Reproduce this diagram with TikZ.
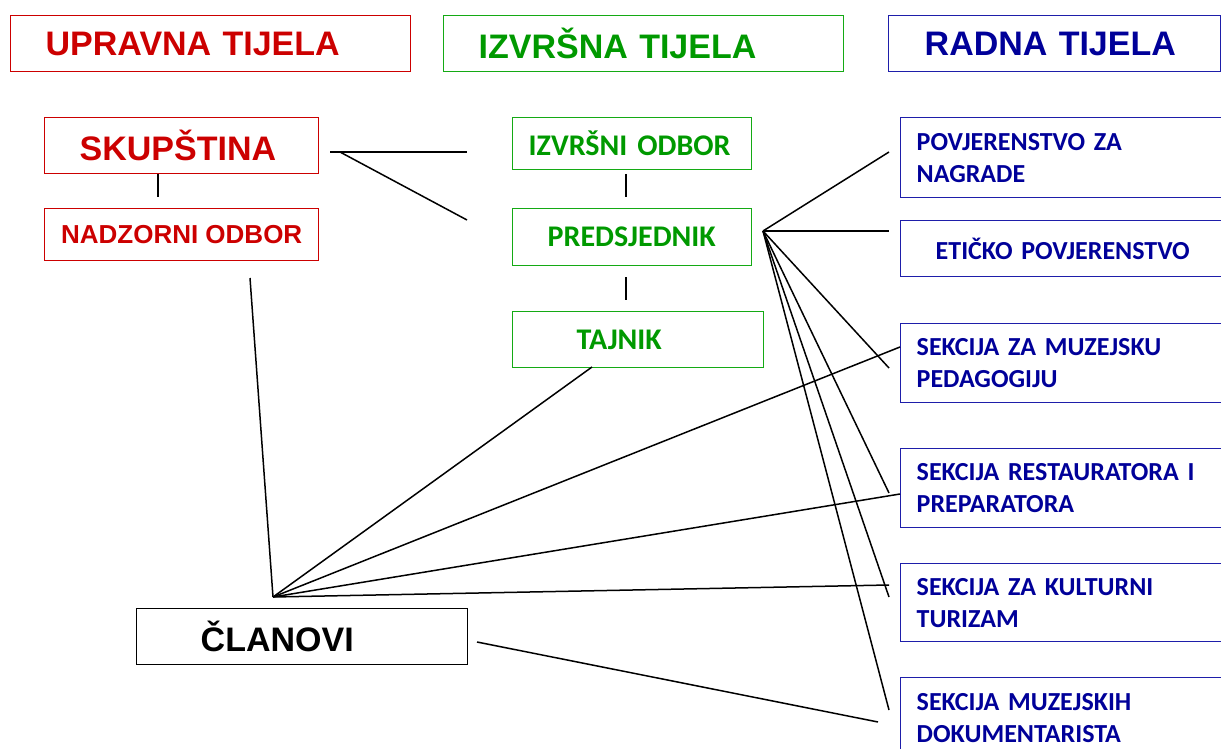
\documentclass[tikz,border=0pt]{standalone}
\usepackage{fontspec}
\setmainfont{Liberation Sans}
\newfontfamily\calfont{Carlito}
\usepackage{tikz}
\definecolor{upred}{RGB}{204,0,0}
\definecolor{izgreen}{RGB}{0,153,0}
\definecolor{izline}{RGB}{20,170,20}
\definecolor{radblue}{RGB}{0,0,153}
\definecolor{radline}{RGB}{30,30,170}
\tikzset{every path/.style={line width=1.5pt}}
\tikzset{box/.style={draw, line width=1.4pt, anchor=north west, align=left, inner ysep=0pt}}
\tikzset{bigtxt/.style={font=\fontsize{34}{40}\selectfont\bfseries}}
\tikzset{redbox/.style={box, draw=upred, text=upred}}
\tikzset{greenbox/.style={box, draw=izline, text=izgreen, minimum height=52pt,
  font=\calfont\fontsize{30}{34}\selectfont\bfseries}}
\tikzset{bluebox/.style={box, draw=radline, text=radblue, minimum height=79pt,
  inner xsep=16pt, text width=308pt, font=\calfont\fontsize{26}{32}\selectfont\bfseries}}

\begin{document}
\begin{tikzpicture}[x=1pt,y=-1pt]
\useasboundingbox (0,0) rectangle (1221,749);

% headings
\node[redbox, bigtxt, minimum height=56pt, inner xsep=35pt, text width=330pt] (upravna) at (10,15) {UPRAVNA TIJELA};
\node[box, bigtxt, draw=izline, text=izgreen, minimum height=56pt, inner xsep=35pt, text width=330pt] (izvrsna) at (443,15) {IZVRŠNA TIJELA};
\node[box, bigtxt, draw=radline, text=radblue, minimum height=56pt, inner xsep=36pt, text width=260pt] (radna) at (888,15) {RADNA TIJELA};

% upravna tijela
\node[redbox, bigtxt, minimum height=56pt, inner xsep=35pt, text width=204pt] (skupstina) at (44,117) {SKUPŠTINA};
\node[redbox, font=\fontsize{26}{30}\selectfont\bfseries, minimum height=52pt, minimum width=274pt] (nadzorni) at (44,208) {NADZORNI ODBOR};
\node[box, bigtxt, minimum height=56pt, inner xsep=64pt, text width=203pt] (clanovi) at (136,608) {ČLANOVI};

% izvrsna tijela
\node[greenbox, inner xsep=16pt, text width=207pt] (izvrsni) at (512,117) {IZVRŠNI ODBOR};
\node[greenbox, minimum height=57pt, inner xsep=35pt, text width=169pt] (predsjednik) at (512,208) {PREDSJEDNIK};
\node[greenbox, minimum height=56pt, inner xsep=64pt, text width=123pt] (tajnik) at (512,311) {TAJNIK};

% radna tijela
\node[bluebox, minimum height=80pt] (nagrade) at (900,117) {POVJERENSTVO ZA\\NAGRADE};
\node[bluebox, minimum height=56pt, inner xsep=35pt, text width=270pt] (eticko) at (900,220) {ETIČKO POVJERENSTVO};
\node[bluebox] (pedagogija) at (900,323) {SEKCIJA ZA MUZEJSKU\\PEDAGOGIJU};
\node[bluebox] (restauratori) at (900,448) {SEKCIJA RESTAURATORA I\\PREPARATORA};
\node[bluebox, minimum height=78pt] (turizam) at (900,563) {SEKCIJA ZA KULTURNI\\TURIZAM};
\node[bluebox, minimum height=80pt] (dokumentaristi) at (900,677) {SEKCIJA MUZEJSKIH\\DOKUMENTARISTA};

% free line ends
\coordinate (sk1) at (330,152);
\coordinate (sk2) at (340,152);
\coordinate (iz1) at (467,152);
\coordinate (pr1) at (467,220);
\coordinate (nz1) at (158,197);
\coordinate (pr2) at (626,174);
\coordinate (pr3) at (626,197);
\coordinate (tj1) at (626,277);
\coordinate (tj2) at (626,300);
\coordinate (pfan) at (763,231);
\coordinate (cfan) at (273,597);
\coordinate (nz2) at (250,278);
\coordinate (tj3) at (592,367);
\coordinate (cl1) at (477,642);
\coordinate (dk1) at (878,722);

\draw (skupstina.south -| nz1) -- (nz1);
\draw (sk1) -- (iz1);
\draw (sk2) -- (pr1);
\draw (pr2) -- (pr3);
\draw (tj1) -- (tj2);

% predsjednik -> radna tijela
\draw (pfan) -- (889,152);
\draw (pfan) -- (889,231);
\draw (pfan) -- (889,368);
\draw (pfan) -- (889,493);
\draw (pfan) -- (889,597);
\draw (pfan) -- (889,710);

% clanovi
\draw (nz2) -- (cfan);
\draw (tj3) -- (cfan);
\draw (cfan) -- (pedagogija.west |- 0,347);
\draw (cfan) -- (restauratori.west |- 0,494);
\draw (cfan) -- (889,585);
\draw (cl1) -- (dk1);
\end{tikzpicture}
\end{document}
